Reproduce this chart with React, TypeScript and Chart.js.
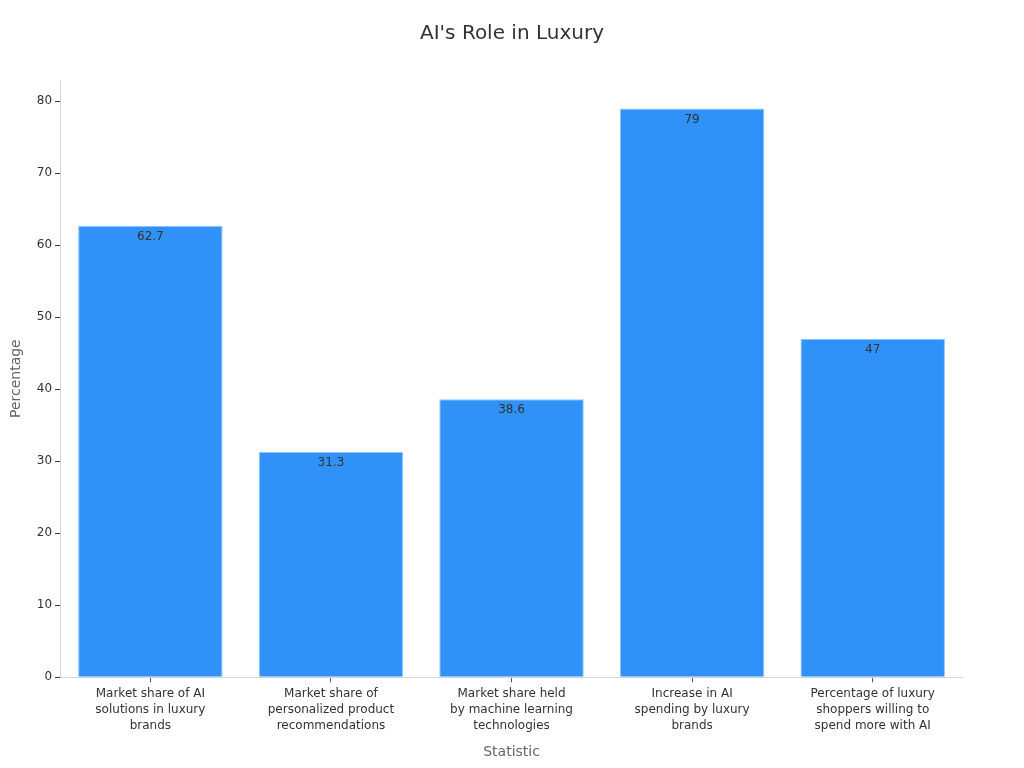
import React, { useEffect, useRef } from 'react';
import Chart from 'chart.js/auto';

const categories: string[][] = [
	['Market share of AI', 'solutions in luxury', 'brands'],
	['Market share of', 'personalized product', 'recommendations'],
	['Market share held', 'by machine learning', 'technologies'],
	['Increase in AI', 'spending by luxury', 'brands'],
	['Percentage of luxury', 'shoppers willing to', 'spend more with AI'],
];
const values: number[] = [62.7, 31.3, 38.6, 79, 47];
const yTicks: number[] = [0, 10, 20, 30, 40, 50, 60, 70, 80];
const chartTitle = "AI's Role in Luxury";

const FONT = "'DejaVu Sans', sans-serif";

// draws the value just under the top edge of each bar
const barLabels = {
	id: 'barLabels',
	afterDatasetsDraw(chart: any) {
		const ctx = chart.ctx;
		const meta = chart.getDatasetMeta(0);
		ctx.save();
		ctx.font = `12px ${FONT}`;
		ctx.fillStyle = '#333333';
		ctx.textAlign = 'center';
		ctx.textBaseline = 'top';
		meta.data.forEach((bar: any, i: number) => {
			ctx.fillText(String(values[i]), bar.x, bar.y + 5);
		});
		ctx.restore();
	},
};

// title centred on the whole canvas, not the plot
const centredTitle = {
	id: 'centredTitle',
	afterDraw(chart: any) {
		const ctx = chart.ctx;
		ctx.save();
		ctx.font = `20px ${FONT}`;
		ctx.fillStyle = '#333333';
		ctx.textAlign = 'center';
		ctx.textBaseline = 'middle';
		ctx.fillText(chartTitle, chart.width / 2, 34);
		ctx.restore();
	},
};

const App: React.FC = () => {
	const chartRef = useRef<HTMLCanvasElement | null>(null);
	const chartInstanceRef = useRef<Chart<'bar'> | null>(null);

	useEffect(() => {
		if (!chartRef.current) return;
		const ctx = chartRef.current.getContext('2d');
		if (!ctx) return;

		if (chartInstanceRef.current) {
			chartInstanceRef.current.destroy();
		}

		chartInstanceRef.current = new Chart(ctx, {
			type: 'bar',
			data: {
				labels: categories,
				datasets: [
					{
						data: values,
						backgroundColor: '#3092f8',
						borderColor: '#8ec5fb',
						borderWidth: 1,
						barPercentage: 0.8,
						categoryPercentage: 1,
					},
				],
			},
			options: {
				responsive: false,
				animation: false,
				layout: {
					padding: { left: 8, right: 61, top: 80, bottom: 7 },
				},
				scales: {
					y: {
						min: 0,
						max: 82.95,
						afterBuildTicks: (axis: any) => {
							axis.ticks = yTicks.map((v) => ({ value: v }));
						},
						border: { display: true, color: '#d6d6d6' },
						grid: {
							drawOnChartArea: false,
							drawTicks: true,
							tickLength: 5,
							color: '#333333',
						},
						ticks: {
							color: '#333333',
							font: { family: FONT, size: 12 },
							padding: 3,
						},
						title: {
							display: true,
							text: 'Percentage',
							color: '#666666',
							font: { family: FONT, size: 14 },
							padding: { top: 0, bottom: 9 },
						},
					},
					x: {
						border: { display: true, color: '#d6d6d6' },
						grid: {
							offset: false,
							drawOnChartArea: false,
							drawTicks: true,
							tickLength: 5,
							color: '#555555',
						},
						ticks: {
							color: '#333333',
							font: { family: FONT, size: 12, lineHeight: 1.33 },
							maxRotation: 0,
							autoSkip: false,
							padding: 4,
						},
						title: {
							display: true,
							text: 'Statistic',
							color: '#666666',
							font: { family: FONT, size: 14 },
							padding: { top: 6, bottom: 0 },
						},
					},
				},
				plugins: {
					legend: { display: false },
					tooltip: { enabled: false },
					title: { display: false },
				},
			},
			plugins: [barLabels, centredTitle],
		} as any);

		return () => {
			if (chartInstanceRef.current) {
				chartInstanceRef.current.destroy();
				chartInstanceRef.current = null;
			}
		};
	}, []);

	return (
		<div style={{ position: 'fixed', left: 0, top: 0, width: 1024, height: 768, background: '#ffffff' }}>
			<canvas ref={chartRef} width={1024} height={768} />
		</div>
	);
};

export default App;
